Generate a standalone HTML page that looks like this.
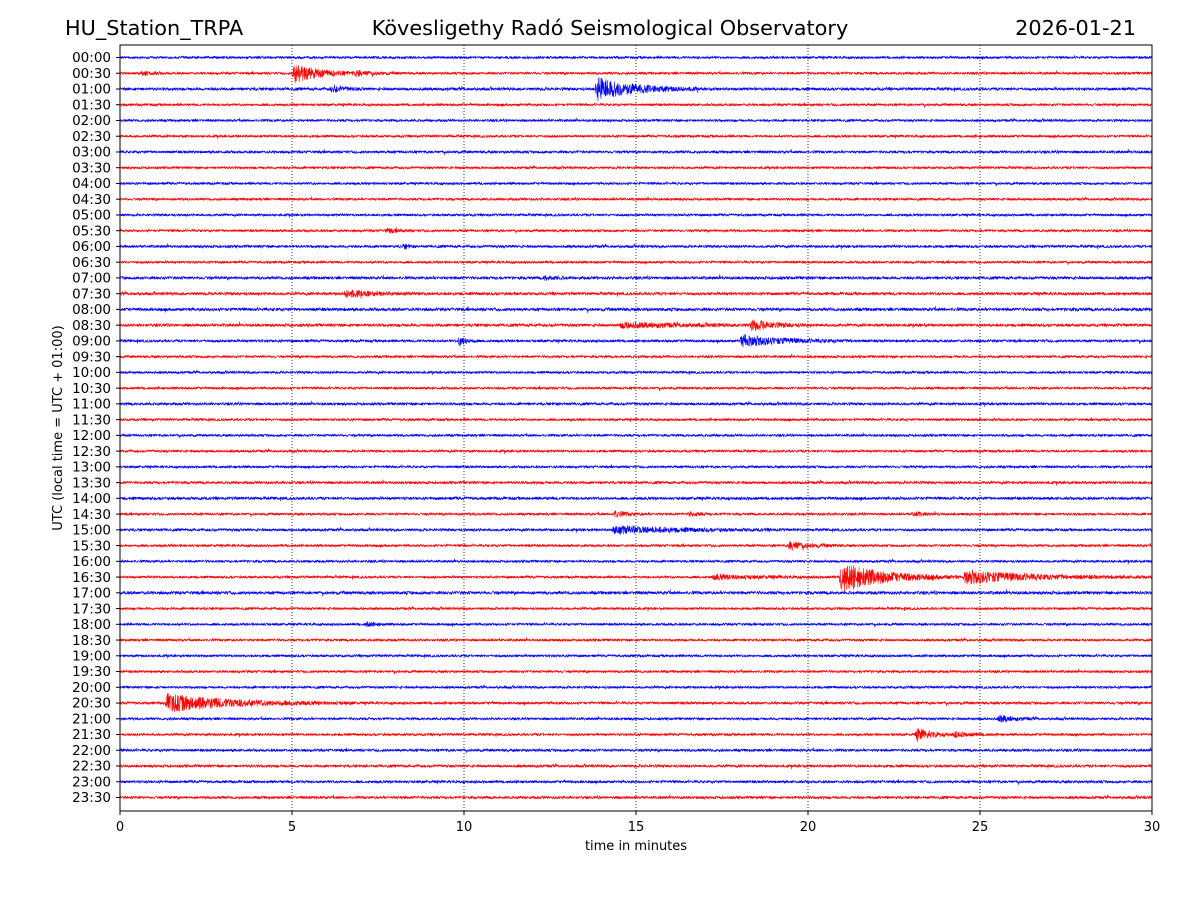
<!DOCTYPE html>
<html><head><meta charset="utf-8">
<style>
html,body{margin:0;padding:0;background:#fff;}
svg text{font-family:"DejaVu Sans","Liberation Sans",sans-serif;fill:#000;}
</style></head>
<body>
<svg id="chart" width="1200" height="900" xmlns="http://www.w3.org/2000/svg">
<rect width="1200" height="900" fill="#fff"/>
<text x="65" y="35" font-size="20.8">HU_Station_TRPA</text>
<text x="610" y="35" font-size="20.8" text-anchor="middle">Kövesligethy Radó Seismological Observatory</text>
<text x="1136" y="35" font-size="20.8" text-anchor="end">2026-01-21</text>
<g id="grid"></g>
<g id="traces"></g>
<rect x="120" y="45" width="1032" height="766" fill="none" stroke="#000" stroke-width="1"/>
<g id="yaxis"></g>
<g id="xaxis"></g>
<text x="636" y="850" font-size="13" text-anchor="middle">time in minutes</text>
<text transform="translate(62,428) rotate(-90)" font-size="13" text-anchor="middle">UTC (local time = UTC + 01:00)</text>
</svg>
<script>
// data
const rowLabels = [];
for (let h = 0; h < 24; h++) { const hh = String(h).padStart(2,'0'); rowLabels.push(hh+':00', hh+':30'); }
const xTicks = [0,5,10,15,20,25,30];
const noiseAmp = [1.0,1.0,1.2,1.0,1.0,1.0,1.1,1.0,1.0,1.0,1.0,1.0,1.1,1.0,1.2,1.2,1.3,1.2,1.1,1.0,1.0,1.0,1.1,1.0,1.0,1.0,1.0,1.1,1.2,1.0,1.1,1.0,1.0,1.0,1.3,1.0,1.0,1.0,1.0,1.0,1.0,1.1,1.0,1.0,1.1,1.1,1.1,1.1];
// events: [row, start minute, duration minutes, peak amplitude px]
const events = [
 [1,0.6,0.8,2.5],[1,5.0,2.0,11],[1,6.8,1.5,3],
 [2,6.1,1.0,4],[2,13.8,3.0,12],
 [11,7.7,1.0,2.5],[12,8.2,0.4,3],
 [14,12.3,0.8,3],[15,6.5,2.5,3.5],
 [17,14.5,5.5,2.5],[17,18.3,1.6,6],
 [18,9.8,0.6,7],[18,18.0,3.5,6],
 [29,14.3,1.2,3],[29,16.5,0.8,2.5],[29,23.0,0.8,2.5],
 [30,14.3,5.0,4],
 [31,19.4,1.6,5],
 [33,17.2,3.6,2.5],[33,20.9,3.5,16],[33,24.5,5.5,7],
 [36,7.1,0.8,3],
 [41,1.3,5.5,9],
 [42,25.5,1.2,4],
 [43,23.1,1.2,7],[43,24.2,1.5,2.5]
];
const NS='http://www.w3.org/2000/svg';
const X0=120,X1=1152,Y0=57.5,DY=(797.5-57.5)/47;
const xs=m=>X0+(X1-X0)*m/30, ys=r=>Y0+r*DY;
function mk(tag,attrs,parent){const e=document.createElementNS(NS,tag);for(const k in attrs)e.setAttribute(k,attrs[k]);parent.appendChild(e);return e;}
const grid=document.getElementById('grid');
xTicks.slice(1,-1).forEach(t=>{
 const l=mk('line',{x1:xs(t),x2:xs(t),y1:45,y2:811,stroke:'#000','stroke-width':0.8,'stroke-dasharray':'1,2'},grid);
 
 
});
const xa=document.getElementById('xaxis');
xTicks.forEach(t=>{
 const l=mk('line',{x1:xs(t),x2:xs(t),y1:811,y2:815,stroke:'#000'},xa);
 
 
 const tx=mk('text',{x:xs(t),y:831,'font-size':13,'text-anchor':'middle'},xa);tx.textContent=t;
 
 
});
const ya=document.getElementById('yaxis');
rowLabels.forEach((lab,i)=>{
 const l=mk('line',{x1:116,x2:120,y1:ys(i),y2:ys(i),stroke:'#000'},ya);
 
 
 const tx=mk('text',{x:111,y:ys(i)+4.7,'font-size':13.5,'text-anchor':'end'},ya);tx.textContent=lab;
 
 
});
// deterministic texture generator
let seed=12345;function rnd(){seed=(seed*1103515245+12345)&0x7fffffff;return seed/0x7fffffff*2-1;}
const tr=document.getElementById('traces');
const N=4128;
rowLabels.forEach((lab,r)=>{
 const evs=events.filter(e=>e[0]===r);
 let d='';
 for(let i=0;i<=N;i++){
  const m=30*i/N;
  let a=noiseAmp[r]*(1+0.4*Math.abs(rnd()));
  if(Math.abs(rnd())>0.997)a*=2.2;
  evs.forEach(e=>{
   const dt=m-e[1];
   if(dt>=0&&dt<=e[2]){const rise=Math.min(1,dt/0.08);a+=e[3]*rise*Math.exp(-3*dt/e[2]);}
  });
  const y=ys(r)+a*rnd();
  d+=(i?'L':'M')+xs(m).toFixed(2)+','+y.toFixed(1);
 }
 const p=mk('path',{d:d,fill:'none',stroke:r%2?'#ff0000':'#0000ff','stroke-width':0.6},tr);
 
 
});
</script>
</body></html>
